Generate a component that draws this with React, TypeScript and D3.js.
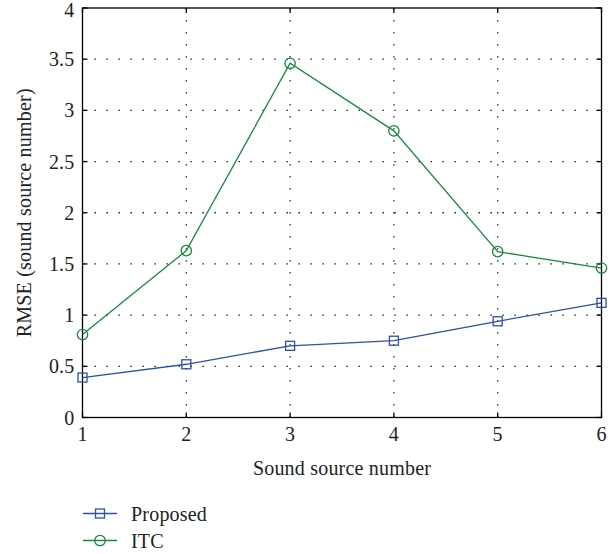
import React, { useEffect, useRef } from 'react';
import * as d3 from 'd3';

const sources = [1, 2, 3, 4, 5, 6];
const proposed = [0.39, 0.52, 0.7, 0.75, 0.94, 1.12];
const itc = [0.81, 1.63, 3.46, 2.8, 1.62, 1.46];
const xTicks = [1, 2, 3, 4, 5, 6];
const yTicks = [0, 0.5, 1, 1.5, 2, 2.5, 3, 3.5, 4];

const BLUE = '#2f4fa9';
const GREEN = '#198a3c';
const FONT = "'Liberation Serif', 'Times New Roman', serif";

function App() {
  const ref = useRef<SVGSVGElement>(null);

  useEffect(() => {
    if (!ref.current) return;
    const svg = d3.select(ref.current);
    svg.selectAll('*').remove();

    const left = 82.5, right = 601.5, top = 8, bottom = 417.5;
    const x = d3.scaleLinear().domain([1, 6]).range([left, right]);
    const y = d3.scaleLinear().domain([0, 4]).range([bottom, top]);

    // grid
    const grid = svg.append('g').attr('stroke', '#000').attr('stroke-width', 1.3)
      .attr('stroke-dasharray', '1.3,10.7');
    xTicks.slice(1, -1).forEach(t => {
      grid.append('line').attr('x1', x(t)).attr('x2', x(t)).attr('y1', bottom).attr('y2', top);
    });
    yTicks.slice(1, -1).forEach(t => {
      grid.append('line').attr('x1', left).attr('x2', right).attr('y1', y(t)).attr('y2', y(t));
    });

    // frame + ticks
    svg.append('rect').attr('x', left).attr('y', top).attr('width', right - left)
      .attr('height', bottom - top).attr('fill', 'none').attr('stroke', '#000').attr('stroke-width', 1.3);
    const tk = svg.append('g').attr('stroke', '#000').attr('stroke-width', 1.3);
    xTicks.forEach(t => {
      tk.append('line').attr('x1', x(t)).attr('x2', x(t)).attr('y1', bottom).attr('y2', bottom - 5);
      tk.append('line').attr('x1', x(t)).attr('x2', x(t)).attr('y1', top).attr('y2', top + 5);
    });
    yTicks.forEach(t => {
      tk.append('line').attr('x1', left).attr('x2', left + 5).attr('y1', y(t)).attr('y2', y(t));
      tk.append('line').attr('x1', right).attr('x2', right - 5).attr('y1', y(t)).attr('y2', y(t));
    });

    const txt = svg.append('g').style('font-family', FONT).attr('fill', '#222')
      .style('font-size', '20px').style('letter-spacing', '0.2px');
    xTicks.forEach(t => {
      txt.append('text').attr('x', x(t)).attr('y', bottom + 23).attr('text-anchor', 'middle').text(t);
    });
    yTicks.forEach(t => {
      txt.append('text').attr('x', left - 8).attr('y', Math.max(y(t) + 7, 17)).attr('text-anchor', 'end').text(t);
    });
    txt.append('text').attr('x', (left + right) / 2).attr('y', bottom + 57)
      .attr('text-anchor', 'middle').text('Sound source number');
    txt.append('text').attr('transform', `translate(31,${(top + bottom) / 2}) rotate(-90)`)
      .attr('text-anchor', 'middle').text('RMSE (sound source number)');

    const line = d3.line<number>().x((_, i) => x(sources[i])).y(d => y(d));

    const drawSeries = (vals: number[], color: string, marker: string) => {
      svg.append('path').attr('d', line(vals)).attr('fill', 'none').attr('stroke', color).attr('stroke-width', 1.3);
      vals.forEach((v, i) => {
        if (marker === 'square') {
          svg.append('rect').attr('x', x(sources[i]) - 4.5).attr('y', y(v) - 4.5).attr('width', 9).attr('height', 9)
            .attr('fill', 'none').attr('stroke', color).attr('stroke-width', 1.3);
        } else {
          svg.append('circle').attr('cx', x(sources[i])).attr('cy', y(v)).attr('r', 5.2)
            .attr('fill', 'none').attr('stroke', color).attr('stroke-width', 1.3);
        }
      });
    };
    drawSeries(proposed, BLUE, 'square');
    drawSeries(itc, GREEN, 'circle');

    // legend
    const legend = [
      { name: 'Proposed', color: BLUE, marker: 'square' },
      { name: 'ITC', color: GREEN, marker: 'circle' },
    ];
    legend.forEach((l, i) => {
      const ly = 513.5 + i * 27;
      svg.append('line').attr('x1', 83).attr('x2', 117).attr('y1', ly).attr('y2', ly)
        .attr('stroke', l.color).attr('stroke-width', 1.3);
      if (l.marker === 'square') {
        svg.append('rect').attr('x', 95.5).attr('y', ly - 4.5).attr('width', 9).attr('height', 9)
          .attr('fill', 'none').attr('stroke', l.color).attr('stroke-width', 1.3);
      } else {
        svg.append('circle').attr('cx', 100).attr('cy', ly).attr('r', 5.2)
          .attr('fill', 'none').attr('stroke', l.color).attr('stroke-width', 1.3);
      }
      txt.append('text').attr('x', 131).attr('y', ly + 7).text(l.name);
    });
  }, []);

  return (
    <svg ref={ref} width={615} height={554}
      style={{ position: 'absolute', left: 0, top: 0, background: '#fff' }} />
  );
}

export default App;
